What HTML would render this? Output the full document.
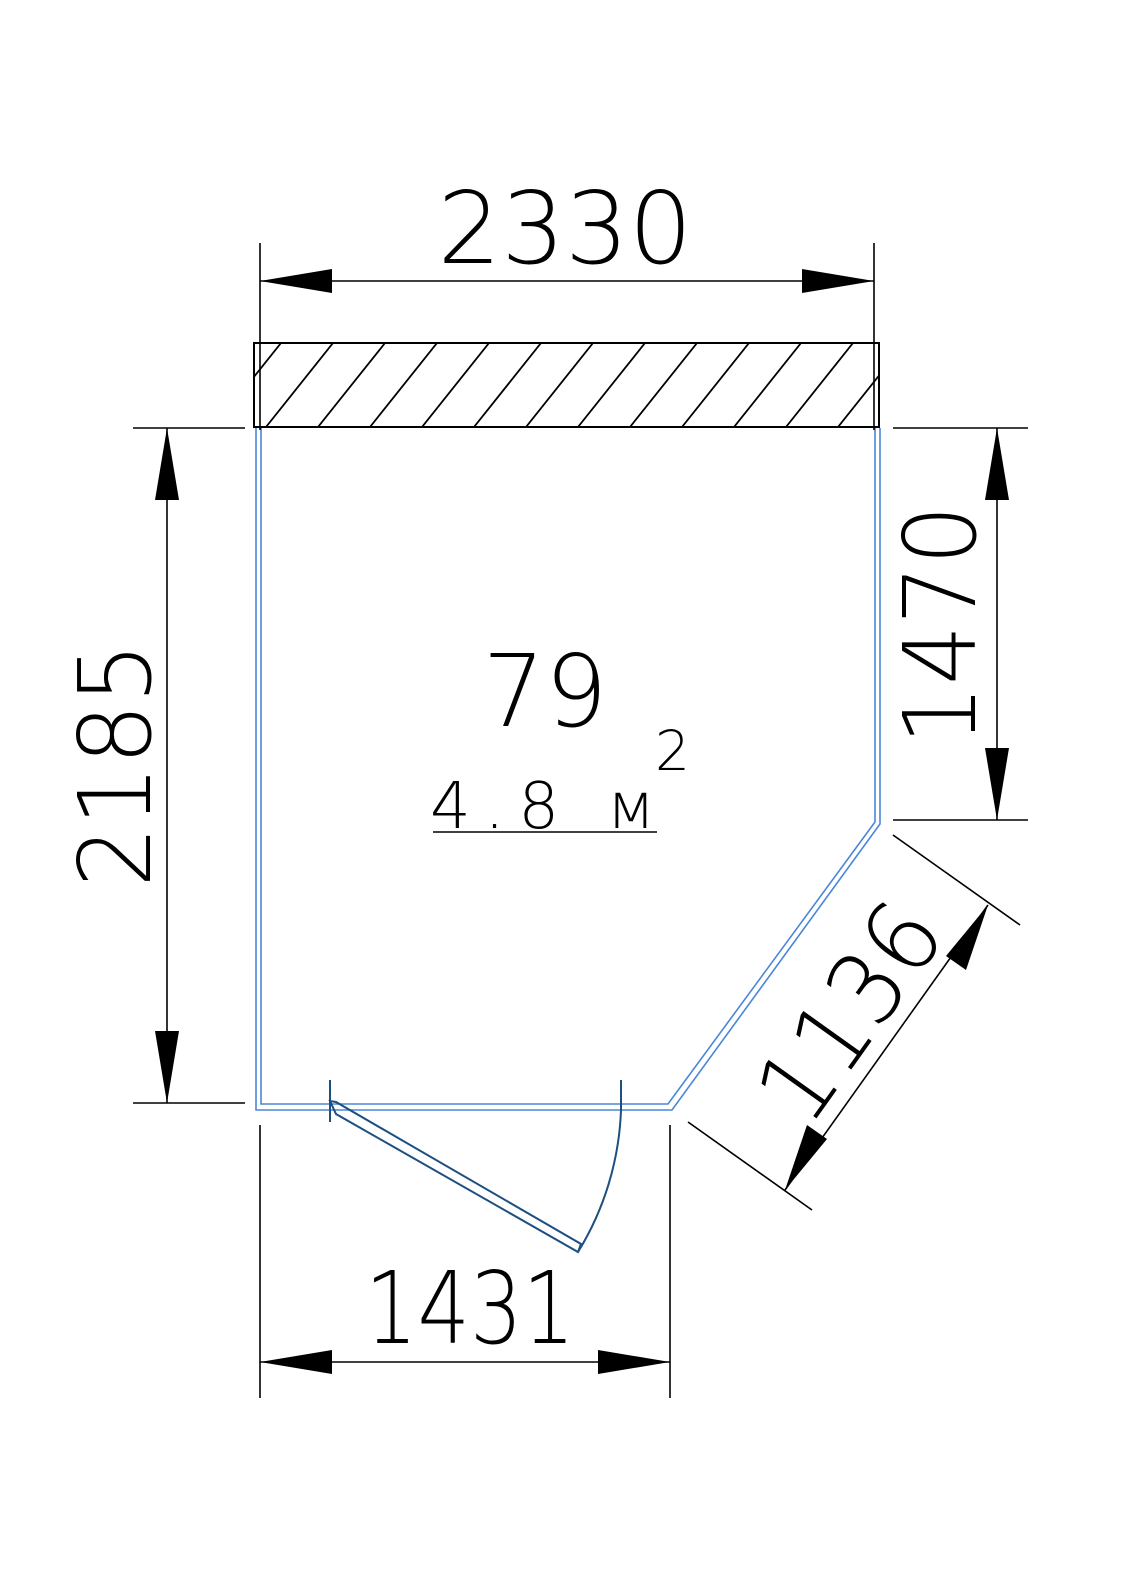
<!DOCTYPE html>
<html><head><meta charset="utf-8"><style>
html,body{margin:0;padding:0;background:#fff;}
svg{display:block;}
text{font-family:"DejaVu Sans","Liberation Sans",sans-serif;font-weight:200;fill:#000;}
</style></head><body>
<svg width="1123" height="1588" viewBox="0 0 1123 1588" xmlns="http://www.w3.org/2000/svg">
<defs>
<clipPath id="wc"><rect x="254" y="343" width="625" height="84"/></clipPath>
</defs>
<rect x="254" y="343" width="625" height="84" fill="none" stroke="#000" stroke-width="2"/>
<g clip-path="url(#wc)" stroke="#000" stroke-width="1.8">
<line x1="214" y1="427" x2="281" y2="343"/>
<line x1="266" y1="427" x2="333" y2="343"/>
<line x1="318" y1="427" x2="385" y2="343"/>
<line x1="370" y1="427" x2="437" y2="343"/>
<line x1="422" y1="427" x2="489" y2="343"/>
<line x1="474" y1="427" x2="541" y2="343"/>
<line x1="526" y1="427" x2="593" y2="343"/>
<line x1="578" y1="427" x2="645" y2="343"/>
<line x1="630" y1="427" x2="697" y2="343"/>
<line x1="682" y1="427" x2="749" y2="343"/>
<line x1="734" y1="427" x2="801" y2="343"/>
<line x1="786" y1="427" x2="853" y2="343"/>
<line x1="838" y1="427" x2="905" y2="343"/>
</g>
<g fill="none" stroke="#4a86d8" stroke-width="1.6">
<polyline points="256,428 256,1110 672,1110 880,824 880,428"/>
<polyline points="261,428 261,1104 668,1104 875,822 875,428"/>
</g>
<g fill="none" stroke="#1d4f80" stroke-width="2">
<line x1="330" y1="1080" x2="330" y2="1122"/>
<polygon points="330,1101 336,1114 578,1252 581,1244 336,1102"/>
<line x1="621" y1="1080" x2="621" y2="1110"/>
<path d="M621,1110 A291,291 0 0 1 578,1252"/>
</g>
<g stroke="#000" stroke-width="1.6" fill="none">
<line x1="260" y1="243" x2="260" y2="430"/>
<line x1="874" y1="243" x2="874" y2="430"/>
<line x1="260" y1="281" x2="874" y2="281"/>
<line x1="133" y1="428" x2="245" y2="428"/>
<line x1="133" y1="1103" x2="245" y2="1103"/>
<line x1="167" y1="428" x2="167" y2="1103"/>
<line x1="893" y1="428" x2="1028" y2="428"/>
<line x1="893" y1="820" x2="1028" y2="820"/>
<line x1="997" y1="428" x2="997" y2="820"/>
<line x1="260" y1="1125" x2="260" y2="1398"/>
<line x1="670" y1="1125" x2="670" y2="1398"/>
<line x1="260" y1="1362" x2="670" y2="1362"/>
<line x1="893" y1="835" x2="1020" y2="925"/>
<line x1="688" y1="1122" x2="812" y2="1210"/>
<line x1="988" y1="905" x2="785" y2="1190"/>
<line x1="433" y1="832" x2="657" y2="832"/>
</g>
<g fill="#000">
<polygon points="260,281 332,269 332,293"/>
<polygon points="874,281 802,269 802,293"/>
<polygon points="167,428 155,500 179,500"/>
<polygon points="167,1103 155,1031 179,1031"/>
<polygon points="997,428 985,500 1009,500"/>
<polygon points="997,820 985,748 1009,748"/>
<polygon points="260,1362 332,1350 332,1374"/>
<polygon points="670,1362 598,1350 598,1374"/>
<polygon points="988,905 966,970 946,956"/>
<polygon points="785,1190 807,1125 827,1139"/>
</g>
<g font-size="100">
<text x="565" y="263" text-anchor="middle" textLength="255" lengthAdjust="spacingAndGlyphs">2330</text>
<text x="470" y="1343" text-anchor="middle" textLength="210" lengthAdjust="spacingAndGlyphs">1431</text>
<text transform="translate(150,765) rotate(-90)" text-anchor="middle" textLength="245" lengthAdjust="spacingAndGlyphs">2185</text>
<text transform="translate(975,625) rotate(-90)" text-anchor="middle" textLength="240" lengthAdjust="spacingAndGlyphs">1470</text>
<text transform="translate(878,1032) rotate(-54.5)" text-anchor="middle" textLength="240" lengthAdjust="spacingAndGlyphs">1136</text>
<text x="545" y="726" text-anchor="middle" textLength="125" lengthAdjust="spacingAndGlyphs">79</text>
</g>
<text x="430" y="828" font-size="64" textLength="225" lengthAdjust="spacing">4.8  м</text>
<text x="655" y="770" font-size="55">2</text>
</svg>
</body></html>
